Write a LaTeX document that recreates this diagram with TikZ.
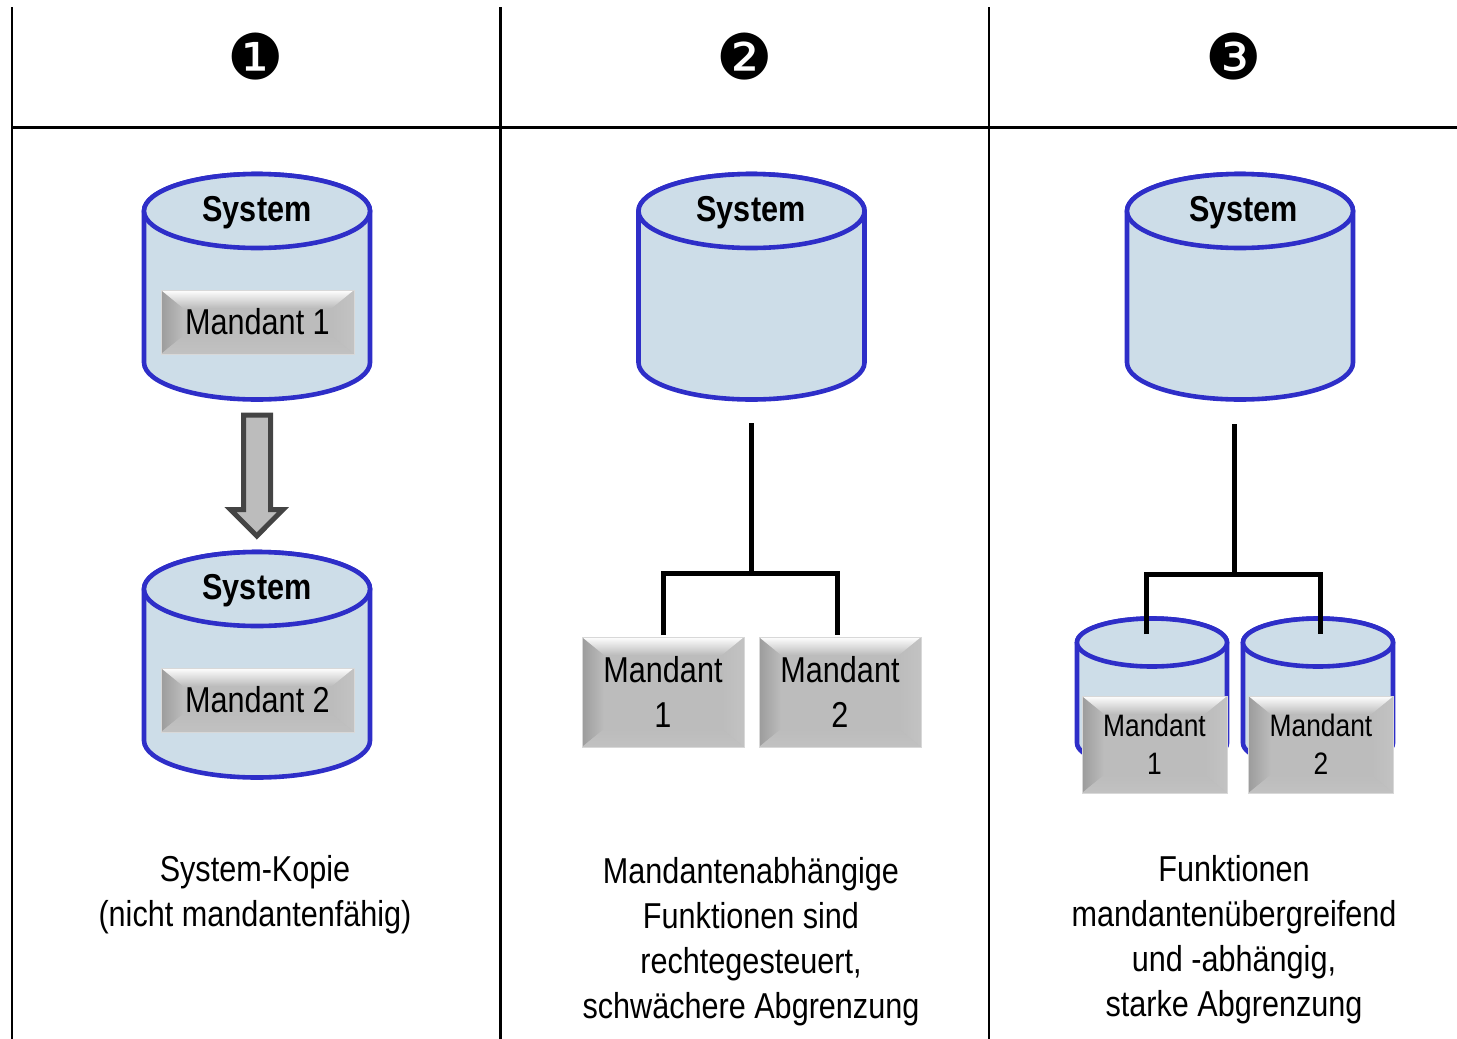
\documentclass[tikz,border=0pt]{standalone}
\usepackage{fontspec}
\setmainfont[FakeStretch=0.85]{Liberation Sans}
\newfontfamily\dingfont{DejaVu Sans}
\usetikzlibrary{calc}
\definecolor{dbline}{HTML}{2E2EC8}
\definecolor{dbfill}{HTML}{CDDDE8}
\definecolor{btn}{HTML}{BCBCBC}
\definecolor{btndark}{HTML}{9C9C9C}
\definecolor{btnedge}{HTML}{D8D8D8}
\definecolor{arrowline}{HTML}{444444}
\tikzset{
  rule/.style={line width=2.5pt,black},
  conn/.style={line width=5pt,black},
  dbshape/.style={line width=4.6pt,draw=dbline,fill=dbfill},
  txt/.style={align=center,inner sep=0pt,font=\fontsize{36}{45}\selectfont},
  numeral/.style={inner sep=0pt,font=\dingfont\fontsize{63}{63}\selectfont},
  sysname/.style={inner sep=0pt,font=\fontsize{36}{45}\selectfont\bfseries},
  buttonbase/.style={rectangle,inner sep=0pt,align=center,draw=btnedge,line width=1pt,fill=btn,
    path picture={
      \coordinate (nw) at (path picture bounding box.north west);
      \coordinate (ne) at (path picture bounding box.north east);
      \coordinate (sw) at (path picture bounding box.south west);
      \coordinate (se) at (path picture bounding box.south east);
      \coordinate (inw) at ($(nw)+(22,18)$);
      \coordinate (ine) at ($(ne)+(-22,18)$);
      \coordinate (isw) at ($(sw)+(22,-18)$);
      \coordinate (ise) at ($(se)+(-22,-18)$);
      \path[left color=btndark,right color=btn] (nw)--(inw)--(isw)--(sw)--cycle;
      \path[left color=btn,right color=btn!90!white] (ne)--(ine)--(ise)--(se)--cycle;
      \path[top color=white,middle color=white!97!btn,bottom color=btn] (nw)--(ne)--(ine)--(inw)--cycle;
      \path[top color=btn,bottom color=btn!92!white] (sw)--(se)--(ise)--(isw)--cycle;
    }},
  buttonbig/.style={buttonbase,minimum width=193pt,minimum height=64pt,font=\fontsize{36}{45}\selectfont},
  buttonmid/.style={buttonbase,minimum width=162pt,minimum height=110pt,font=\fontsize{36}{45}\selectfont},
  buttonsmall/.style={buttonbase,minimum width=145pt,minimum height=97pt,font=\fontsize{31}{38}\selectfont},
  arrowshape/.style={line width=5pt,draw=arrowline,fill=btn,line join=miter},
}
% name, cx, cy of upper ellipse, cy of lower ellipse, rx, ry
\newcommand{\dbcyl}[6]{%
  \node[inner sep=0pt,minimum width=#5*2pt,minimum height=#4-#3+2*#6] (#1) at (#2,{(#3+#4)/2}) {};
  \path[dbshape] (#2-#5,#3) -- (#2-#5,#4) arc[start angle=180,end angle=360,x radius=#5pt,y radius=#6pt]
     -- (#2+#5,#3) arc[start angle=0,end angle=180,x radius=#5pt,y radius=#6pt] -- cycle;
  \path[dbshape] (#2,#3) ellipse[x radius=#5pt,y radius=#6pt];
}
\begin{document}
\begin{tikzpicture}[x=1pt,y=-1pt]
\useasboundingbox (0,0) rectangle (1457,1039);
% grid
\coordinate (g1t) at (12,7);    \coordinate (g1b) at (12,1039);
\coordinate (g2t) at (500.5,7); \coordinate (g2b) at (500.5,1039);
\coordinate (g3t) at (989,7);   \coordinate (g3b) at (989,1039);
\coordinate (hl) at (12,127.5); \coordinate (hr) at (1457,127.5);
\draw[rule] (g1t)--(g1b);
\draw[rule] (g2t)--(g2b);
\draw[rule] (g3t)--(g3b);
\draw[rule] (hl)--(hr);
% headers
\node[numeral] (n1) at (256,57) {❶};
\node[numeral] (n2) at (745,57) {❷};
\node[numeral] (n3) at (1234,57) {❸};
% column 1
\dbcyl{c1a}{257}{211}{362.5}{113}{37}
\node[sysname] (s1a) at (257,213) {System};
\node[buttonbig] (m1a) at (257.5,322) {Mandant 1};
\dbcyl{c1b}{257}{589}{740.5}{113}{37}
\node[sysname] (s1b) at (257,591) {System};
\node[buttonbig] (m1b) at (257.5,700) {Mandant 2};
\path[arrowshape] (243.5,415) -- (270.5,415) -- (270.5,509.5) -- (283,509.5) -- (256.8,536) -- (230.5,509.5) -- (243.5,509.5) -- cycle;
\node[txt] (t1) at (255,895) {System-Kopie\\(nicht mandantenfähig)};
% column 2
\dbcyl{c2}{751.5}{211}{362.5}{113}{37}
\node[sysname] (s2) at (751,213) {System};
\node[buttonmid] (m2a) at (663,692) {Mandant\\1};
\node[buttonmid] (m2b) at (840,692) {Mandant\\2};
\coordinate (j2t) at (751,423);
\coordinate (j2m) at (751,573.5);
\coordinate (j2l) at (663,573.5);
\coordinate (j2r) at (837,573.5);
\coordinate (e2l) at (663,635);
\coordinate (e2r) at (837,635);
\draw[conn] (j2t)--(j2m);
\draw[conn,line join=miter] (e2l)--(j2l)--(j2r)--(e2r);
\node[txt] (t2) at (751,942) {Mandantenabhängige\\Funktionen sind\\rechtegesteuert,\\schwächere Abgrenzung};
% column 3
\dbcyl{c3}{1240}{211}{362.5}{113}{37}
\node[sysname] (s3) at (1243.5,213) {System};
\dbcyl{c3a}{1152}{642.5}{743}{75}{24}
\dbcyl{c3b}{1318}{642.5}{743}{75}{24}
\node[buttonsmall] (m3a) at (1154.5,744.5) {Mandant\\1};
\node[buttonsmall] (m3b) at (1321,744.5) {Mandant\\2};
\coordinate (j3t) at (1234,424);
\coordinate (j3m) at (1234,574.5);
\coordinate (j3l) at (1146,574.5);
\coordinate (j3r) at (1320,574.5);
\coordinate (e3l) at (1146,634);
\coordinate (e3r) at (1320,634);
\draw[conn] (j3t)--(j3m);
\draw[conn,line join=miter] (e3l)--(j3l)--(j3r)--(e3r);
\node[txt] (t3) at (1234,939.5) {Funktionen\\mandantenübergreifend\\und -abhängig,\\starke Abgrenzung};
\end{tikzpicture}
\end{document}
